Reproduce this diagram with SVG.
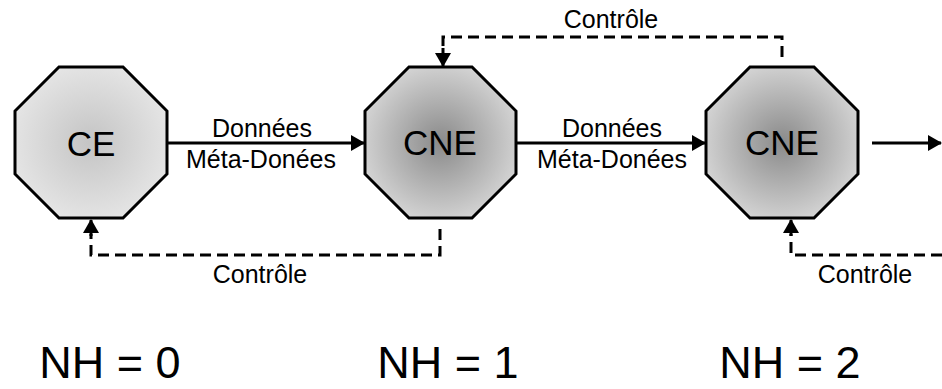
<svg xmlns="http://www.w3.org/2000/svg" width="942" height="389" viewBox="0 0 942 389">
<defs>
<radialGradient id="gCE" cx="0.5" cy="0.5" r="0.55">
<stop offset="0" stop-color="#c4c4c4"/>
<stop offset="1" stop-color="#e6e6e6"/>
</radialGradient>
<radialGradient id="gCNE" cx="0.5" cy="0.5" r="0.55">
<stop offset="0" stop-color="#8a8a8a"/>
<stop offset="1" stop-color="#d6d6d6"/>
</radialGradient>
<marker id="ah" viewBox="0 0 14 16" refX="13" refY="8" markerWidth="14" markerHeight="16" markerUnits="userSpaceOnUse" orient="auto">
<path d="M0,0 L14,8 L0,16 Z" fill="#000"/>
</marker>
</defs>
<style>
.oct{stroke:#000;stroke-width:3;stroke-linejoin:miter}
.lbl{font-family:"Liberation Sans",Arial,sans-serif;fill:#000;text-anchor:middle}
.node{font-size:35px}
.edge{font-size:25px}
.nh{font-size:45px}
.solid{fill:none;stroke:#000;stroke-width:3}
.dash{fill:none;stroke:#000;stroke-width:3;stroke-dasharray:11 6}
</style>
<g id="connectors">
<line class="solid" x1="167" y1="143" x2="364" y2="143" marker-end="url(#ah)"/>
<line class="solid" x1="516" y1="143" x2="705" y2="143" marker-end="url(#ah)"/>
<line class="solid" x1="872" y1="143" x2="941" y2="143" marker-end="url(#ah)"/>
<path class="dash" d="M440,229 V255 H91 V234"/>
<path class="solid" d="M91,236 V220" marker-end="url(#ah)"/>
<path class="dash" d="M782,57 V37 H443 V50"/>
<path class="solid" d="M443,48 V66" marker-end="url(#ah)"/>
<path class="dash" d="M942,255 H791 V234"/>
<path class="solid" d="M791,236 V220" marker-end="url(#ah)"/>
<text class="lbl edge" x="262" y="137">Données</text>
<text class="lbl edge" x="261" y="168">Méta-Donées</text>
<text class="lbl edge" x="612" y="137">Données</text>
<text class="lbl edge" x="612" y="168">Méta-Donées</text>
<text class="lbl edge" x="611" y="28">Contrôle</text>
<text class="lbl edge" x="260" y="283">Contrôle</text>
<text class="lbl edge" x="865" y="283">Contrôle</text>
</g>
<g id="ce">
<polygon class="oct" fill="url(#gCE)" points="59,67 123,67 167,111 167,174 123,218 59,218 15,174 15,111"/>
<text class="lbl node" x="91" y="156">CE</text>
</g>
<g id="cne1">
<polygon class="oct" fill="url(#gCNE)" points="409,67 472,67 516,111 516,174 472,218 409,218 365,174 365,111"/>
<text class="lbl node" x="440" y="155">CNE</text>
</g>
<g id="cne2">
<polygon class="oct" fill="url(#gCNE)" points="750,67 814,67 858,111 858,174 814,218 750,218 706,174 706,111"/>
<text class="lbl node" x="782" y="155">CNE</text>
</g>
<g id="levels">
<text class="lbl nh" x="110" y="378">NH = 0</text>
<text class="lbl nh" x="448" y="378">NH = 1</text>
<text class="lbl nh" x="790" y="378">NH = 2</text>
</g>
</svg>
